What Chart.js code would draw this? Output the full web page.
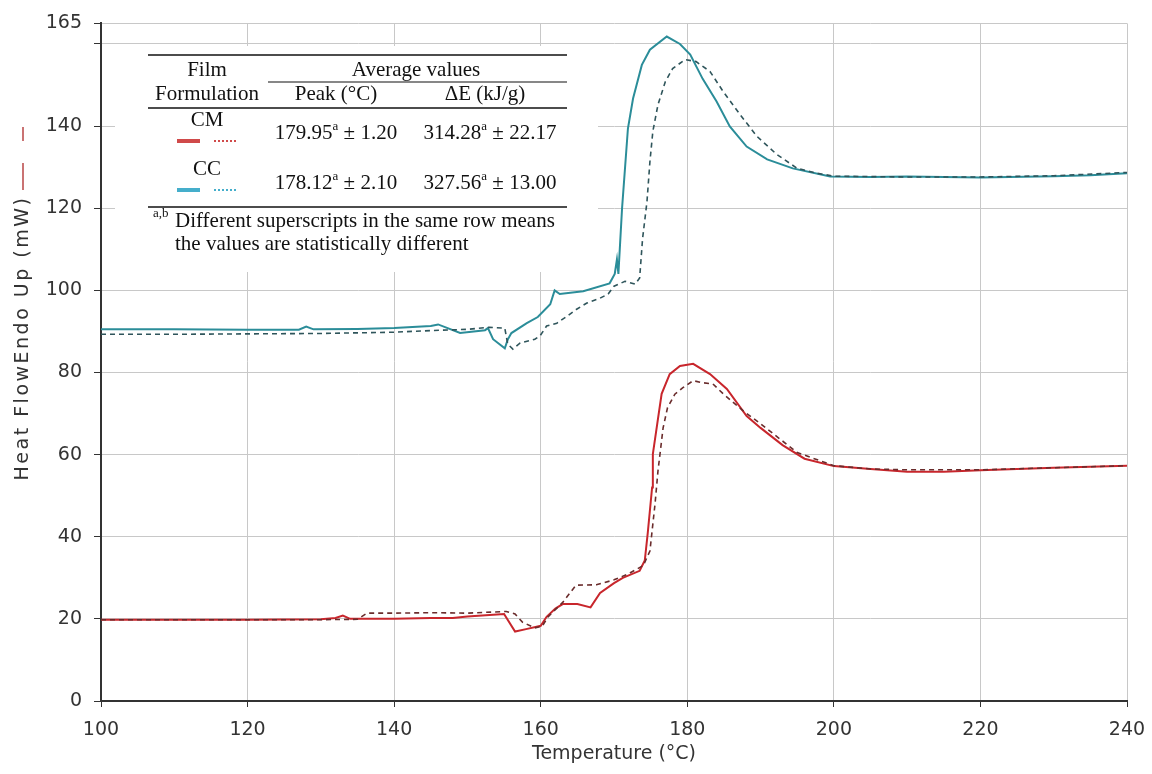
<!DOCTYPE html>
<html>
<head>
<meta charset="utf-8">
<script src="https://cdn.jsdelivr.net/npm/chart.js@4/dist/chart.umd.min.js"></script>
<style>
  html, body { margin: 0; padding: 0; background: #fff; }
  #wrap { width: 1152px; height: 774px; position: relative; }
</style>
</head>
<body>
<div id="wrap"><canvas id="dsc"></canvas></div>
<script>
/* ── Data ─────────────────────────────────────────────────── */
const ccSolidT = [100,110,120,127,128,129,135,140,145,146,149,152.4,152.8,153.5,155.1,155.5,156,158.1,159.6,161.3,161.9,162.6,165.8,169.4,169.8,170.1,170.4,170.6,171.1,171.9,172.6,173.8,174.9,177.2,179,180.4,182.1,184,185.8,188.1,190.9,194.4,199.5,205,210,220,230,235,240];
const ccSolidV = [90.5,90.5,90.4,90.4,91.2,90.5,90.6,90.8,91.3,91.7,89.6,90.3,90.8,88.1,85.9,88,89.6,92,93.5,96.6,100,99.1,99.8,101.7,103,104,107.5,104,120,139.4,146.7,154.9,158.6,161.8,160,157.4,151.5,146,139.9,135,131.9,129.7,127.7,127.6,127.7,127.5,127.8,128,128.5];

const ccDashT = [100,110,120,130,140,145,150,153,155.1,155.5,156.2,157.2,159.2,159.9,160.8,162.2,163.6,164.9,166.3,168.1,169.2,170,171.5,172.9,173.5,173.9,174.5,174.9,175.3,176,177,178,179.7,181.2,183.1,184.9,187.2,189.5,192.2,195,197.7,200,210,220,230,240];
const ccDashV = [89.3,89.3,89.4,89.5,89.8,90.2,90.5,91,90.8,86.9,85.7,87.2,88.1,88.9,91.3,92,93.7,95.4,96.9,98.1,99.1,101,102.2,101.5,103,112.6,121.6,131.3,138.7,145.2,150.8,154,156.2,155.7,153.3,148.4,142.8,137.5,133.1,129.7,128.5,127.8,127.6,127.6,127.9,128.7];

const cmSolidT = [100,110,120,130,132,133,134,140,145,148,150,152,155,156.5,158,160,160.8,162,163,165,166.8,168.1,170,171.2,173.5,174.2,174.6,175.2,175.3,175.9,176.5,177.6,179,180.8,183.1,185.4,188.1,190,193,196,200,205,210,215,220,230,240];
const cmSolidV = [19.8,19.8,19.8,19.9,20.2,20.8,20.0,20.0,20.2,20.2,20.6,20.8,21.2,16.9,17.5,18.3,20.5,22.5,23.6,23.6,22.8,26.3,28.7,30,31.7,34.2,40.8,52,60.1,67.5,74.8,79.6,81.6,82.1,79.6,76,69.4,66.5,62.3,59,57.2,56.5,55.8,55.8,56.2,56.8,57.3];

const cmDashT = [100,110,120,130,135,136.3,140,145,150,155.3,156.5,157.5,159.2,160.2,161,163,164.8,167.6,170,172,174,174.9,175.6,176,176.7,177.3,178.3,179.4,180.8,182.1,183.5,184.9,187.6,190,195,200,205,210,215,220,230,240];
const cmDashV = [19.8,19.8,19.8,19.8,19.9,21.4,21.4,21.5,21.4,21.8,21.2,19.2,17.8,18.2,20.5,24,28.2,28.3,29.5,31,33,36.5,48,56,66.5,71.4,74.7,76.3,78,77.5,77.2,74.8,70.7,67.5,60.5,57.3,56.5,56.3,56.3,56.3,56.8,57.3];

/* ── Axes ─────────────────────────────────────────────────── */
const yTickValues = [0,20,40,60,80,100,120,140,160,165];
const yTickLabels = ['0','20','40','60','80','100','120','140','','165'];

/* ── Inset table contents ─────────────────────────────────── */
const tableFormulations = ['CM','CC'];
const tablePeak   = [['179.95','a','± 1.20'], ['178.12','a','± 2.10']];
const tableEnergy = [['314.28','a','± 22.17'], ['327.56','a','± 13.00']];
const tableSwatch = ['#d04a4a', '#45aecb'];

const zip = (t, v) => t.map((x, i) => ({ x, y: v[i] }));

/* Texte avec exposant, centré sur cx */
function texteExposant(ctx, parts, cx, cy) {
  const [base, sup, rest] = parts;
  ctx.font = '21px "Liberation Serif", "Times New Roman", serif';
  const wBase = ctx.measureText(base).width;
  const wRest = ctx.measureText(' ' + rest).width;
  ctx.font = '13px "Liberation Serif", "Times New Roman", serif';
  const wSup = ctx.measureText(sup).width;
  let x = cx - (wBase + wSup + wRest) / 2;
  ctx.textAlign = 'left';
  ctx.font = '21px "Liberation Serif", "Times New Roman", serif';
  ctx.fillText(base, x, cy);
  x += wBase;
  ctx.font = '13px "Liberation Serif", "Times New Roman", serif';
  ctx.fillText(sup, x, cy - 6);
  x += wSup;
  ctx.font = '21px "Liberation Serif", "Times New Roman", serif';
  ctx.fillText(' ' + rest, x, cy);
}

/* ── Tableau encarté (au-dessus de la grille) ─────────────── */
const insetTable = {
  id: 'insetTable',
  beforeDatasetsDraw(chart) {
    const ctx = chart.ctx;
    ctx.save();
    ctx.fillStyle = '#fff';
    ctx.fillRect(115, 46, 483, 226);

    ctx.strokeStyle = '#111';
    ctx.lineWidth = 1.5;
    [[148, 55], [148, 108], [148, 207]].forEach(([x, y]) => {
      ctx.beginPath(); ctx.moveTo(x, y); ctx.lineTo(567, y); ctx.stroke();
    });
    ctx.lineWidth = 1.2;
    ctx.beginPath(); ctx.moveTo(268, 82); ctx.lineTo(567, 82); ctx.stroke();

    ctx.fillStyle = '#111';
    ctx.textBaseline = 'middle';
    ctx.textAlign = 'center';
    ctx.font = '21px "Liberation Serif", "Times New Roman", serif';
    ctx.fillText('Film', 207, 70);
    ctx.fillText('Formulation', 207, 94);
    ctx.fillText('Average values', 416, 70);
    ctx.fillText('Peak (°C)', 336, 94);
    ctx.fillText('ΔE (kJ/g)', 485, 94);

    tableFormulations.forEach((nom, i) => {
      const yLab = 120 + i * 49;
      const ySw  = 141 + i * 49;
      const yVal = 133 + i * 50;
      ctx.textAlign = 'center';
      ctx.font = '21px "Liberation Serif", "Times New Roman", serif';
      ctx.fillStyle = '#111';
      ctx.fillText(nom, 207, yLab);
      ctx.strokeStyle = tableSwatch[i];
      ctx.lineWidth = 4;
      ctx.setLineDash([]);
      ctx.beginPath(); ctx.moveTo(177, ySw); ctx.lineTo(200, ySw); ctx.stroke();
      ctx.lineWidth = 2;
      ctx.setLineDash([2, 2]);
      ctx.beginPath(); ctx.moveTo(214, ySw); ctx.lineTo(238, ySw); ctx.stroke();
      ctx.setLineDash([]);
      ctx.fillStyle = '#111';
      texteExposant(ctx, tablePeak[i], 336, yVal);
      texteExposant(ctx, tableEnergy[i], 490, yVal);
    });

    ctx.textAlign = 'left';
    ctx.font = '13px "Liberation Serif", "Times New Roman", serif';
    ctx.fillText('a,b', 153, 214);
    ctx.font = '21px "Liberation Serif", "Times New Roman", serif';
    ctx.fillText('Different superscripts in the same row means', 175, 221);
    ctx.fillText('the values are statistically different', 175, 244);
    ctx.restore();
  }
};

/* ── Titre axe Y avec repères rouges ──────────────────────── */
const titreAxeY = {
  id: 'titreAxeY',
  afterDraw(chart) {
    const ctx = chart.ctx;
    ctx.save();
    ctx.translate(23, 338);
    ctx.rotate(-Math.PI / 2);
    ctx.fillStyle = '#333';
    ctx.font = '19px "DejaVu Sans", sans-serif';
    ctx.letterSpacing = '2.5px';
    ctx.textAlign = 'center';
    ctx.textBaseline = 'middle';
    ctx.fillText('Heat FlowEndo Up (mW)', 0, 0);
    ctx.restore();

    ctx.save();
    ctx.strokeStyle = '#b84545';
    ctx.lineWidth = 1.5;
    ctx.beginPath(); ctx.moveTo(23, 190); ctx.lineTo(23, 163); ctx.stroke();
    ctx.beginPath(); ctx.moveTo(23, 141); ctx.lineTo(23, 127); ctx.stroke();
    ctx.restore();
  }
};

new Chart(document.getElementById('dsc').getContext('2d'), {
  type: 'scatter',
  data: {
    datasets: [
      { label: 'CC dashed', data: zip(ccDashT, ccDashV), borderColor: '#2f555b', borderWidth: 1.6, borderDash: [5, 4] },
      { label: 'CM dashed', data: zip(cmDashT, cmDashV), borderColor: '#6a2c2c', borderWidth: 1.6, borderDash: [5, 4] },
      { label: 'CC', data: zip(ccSolidT, ccSolidV), borderColor: '#2b8d99', borderWidth: 2 },
      { label: 'CM', data: zip(cmSolidT, cmSolidV), borderColor: '#c8262c', borderWidth: 2 },
    ].map(d => ({ ...d, showLine: true, pointRadius: 0, tension: 0, fill: false })),
  },
  options: {
    responsive: true,
    maintainAspectRatio: false,
    devicePixelRatio: 1,
    animation: false,
    layout: { padding: { top: 22, right: 25, left: 0, bottom: 0 } },
    plugins: { legend: { display: false }, tooltip: { enabled: false } },
    scales: {
      x: {
        type: 'linear', min: 100, max: 240,
        afterFit: s => { s.height = 73; s.paddingRight = 0; s.paddingLeft = 0; },
        border: { color: '#333', width: 2 },
        grid: { color: '#c8c8c8', tickColor: '#333', tickLength: 6, lineWidth: 1 },
        ticks: { stepSize: 20, color: '#333', padding: 12, maxRotation: 0,
                 font: { family: '"DejaVu Sans", sans-serif', size: 19 } },
        title: { display: true, text: 'Temperature (°C)', color: '#333', padding: { top: 0, bottom: 9 },
                 font: { family: '"DejaVu Sans", sans-serif', size: 19 } },
      },
      y: {
        type: 'linear', min: 0, max: 165,
        afterFit: s => { s.width = 101; },
        afterBuildTicks: s => { s.ticks = yTickValues.map(v => ({ value: v })); },
        border: { color: '#333', width: 2 },
        grid: { color: '#c8c8c8', tickColor: '#333', tickLength: 7, lineWidth: 1 },
        ticks: { color: '#333', padding: 12,
                 callback: v => yTickLabels[yTickValues.indexOf(v)] ?? '',
                 font: { family: '"DejaVu Sans", sans-serif', size: 19 } },
      },
    },
  },
  plugins: [insetTable, titreAxeY],
});
</script>
</body>
</html>
